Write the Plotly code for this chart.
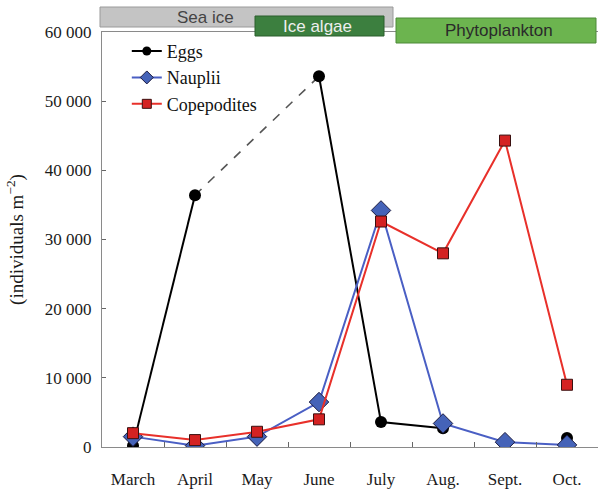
import plotly.graph_objects as go

months = ["March", "April", "May", "June", "July", "Aug.", "Sept.", "Oct."]
eggs = [200, 36400, None, 53600, 3600, 2700, None, 1300]
nauplii = [1500, 200, 1500, 6500, 34200, 3400, 700, 300]
copepodites = [2000, 1000, 2200, 4000, 32600, 28000, 44300, 9000]
eggs_dashed_months = ["April", "June"]
eggs_dashed = [eggs[months.index(m)] for m in eggs_dashed_months]
y_ticks = [0, 10000, 20000, 30000, 40000, 50000, 60000]

serif = "Liberation Serif, Times New Roman, serif"
sans = "Liberation Sans, Arial, sans-serif"

series = [
    ("Eggs", eggs, "#000000", dict(symbol="circle", color="#000000"), 12, 9),
    ("Nauplii", nauplii, "#4a5fc4",
     dict(symbol="diamond", color="#4563b8", line=dict(color="#1a1a40", width=1)), 15, 10),
    ("Copepodites", copepodites, "#e8302a",
     dict(symbol="square", color="#d42222", line=dict(color="#3a1010", width=1)), 11, 9),
]

fig = go.Figure()
fig.add_trace(go.Scatter(x=eggs_dashed_months, y=eggs_dashed, mode="lines",
                         line=dict(color="#555555", width=1.6, dash="dash"),
                         showlegend=False, hoverinfo="skip"))
for i, (name, vals, col, mk, size, lsize) in enumerate(series):
    fig.add_trace(go.Scatter(x=months, y=vals, name=name, mode="lines+markers",
                             connectgaps=False, showlegend=False,
                             line=dict(color=col, width=2),
                             marker=dict(size=size, **mk)))
for i, (name, vals, col, mk, size, lsize) in enumerate(series):
    fig.add_trace(go.Scatter(x=[None], y=[None], name=name, mode="lines+markers",
                             legendgroup=str(i), showlegend=True,
                             line=dict(color=col, width=2),
                             marker=dict(size=lsize, **mk)))

def px_x(p):
    return (p - 102) / 496.0

def px_y(p):
    return (447 - p) / 415.0

boxes = [
    (100, 393, 7, 27, "#c4c4c4", "#9a9a9a", "Sea ice", "#444444", 205),
    (255, 384, 16, 36, "#3c7f3f", "#2a5f2c", "Ice algae", "#eeeeee", 317),
    (396, 596, 18, 43, "#6cb44f", "#4d8a38", "Phytoplankton", "#2a2a2a", 499),
]
for x0, x1, y0, y1, fill, edge, label, tcol, tx in boxes:
    fig.add_shape(type="rect", xref="paper", yref="paper",
                  x0=px_x(x0), x1=px_x(x1), y0=px_y(y1), y1=px_y(y0),
                  fillcolor=fill, line=dict(color=edge, width=1), layer="above")
for x0, x1, y0, y1, fill, edge, label, tcol, tx in boxes:
    fig.add_annotation(xref="paper", yref="paper", x=px_x(tx),
                       y=(px_y(y0) + px_y(y1)) / 2, text=label, showarrow=False,
                       font=dict(family=sans, size=17, color=tcol),
                       xanchor="center", yanchor="middle")

fig.update_layout(
    width=598, height=493,
    margin=dict(l=102, r=0, t=32, b=46),
    plot_bgcolor="white", paper_bgcolor="white",
    separators=". ",
    showlegend=True,
    legend=dict(x=0.05, y=0.998, xanchor="left", yanchor="top",
                font=dict(family=serif, size=18, color="#111111"),
                bgcolor="rgba(0,0,0,0)", traceorder="grouped", tracegroupgap=0,
                itemwidth=30),
    xaxis=dict(type="category", categoryorder="array", categoryarray=months,
               range=[-0.5, 7.5], showline=True, linecolor="#8a8a8a", linewidth=1.2,
               mirror=True, ticks="inside", tickson="boundaries", ticklen=5,
               tickcolor="#666666", showgrid=False, zeroline=False,
               ticklabelstandoff=16,
               tickfont=dict(family=serif, size=17, color="#1a1a1a")),
    yaxis=dict(range=[0, 60000], tickvals=y_ticks, tickformat=",d",
               showline=True, linecolor="#8a8a8a", linewidth=1.2, mirror=True,
               ticks="inside", ticklen=4, tickcolor="#666666", showgrid=False,
               zeroline=False, ticklabelstandoff=6,
               tickfont=dict(family=serif, size=17, color="#1a1a1a"),
               title=dict(text="(individuals m<sup>−2</sup>)",
                          font=dict(family=serif, size=19, color="#1a1a1a"),
                          standoff=16)),
)

fig.write_html("out.html", config={"displayModeBar": False},
               post_script="document.body.style.margin='0';document.body.style.padding='0';")
